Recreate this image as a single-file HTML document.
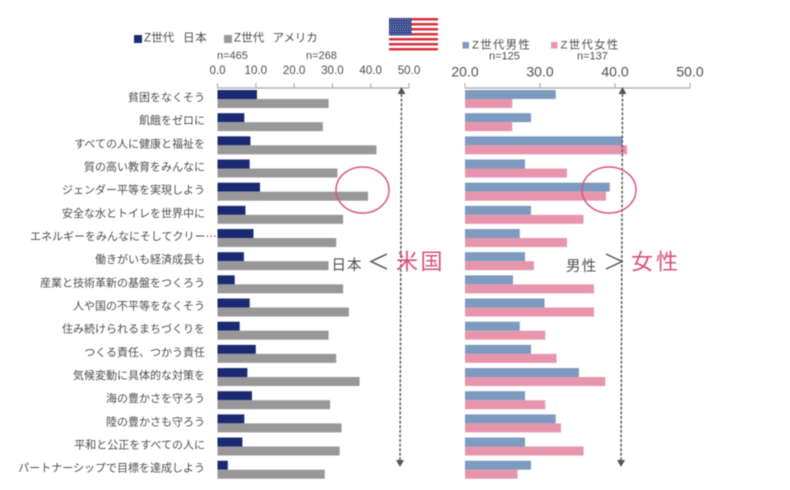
<!DOCTYPE html>
<html lang="ja">
<head>
<meta charset="utf-8">
<title>SDGs Z世代</title>
<style>
html,body{margin:0;padding:0;background:#fff;}
#chart{display:block;width:790px;height:490px;filter:blur(0.4px);}
text{font-family:"Liberation Sans","Noto Sans CJK JP",sans-serif;fill:#4d4d4d;}
</style>
</head>
<body>
<svg id="chart" xmlns="http://www.w3.org/2000/svg" width="790" height="490" viewBox="0 0 790 490">
  <g id="flag"></g>
  <g>
    <rect x="134" y="35" width="8" height="8" fill="#1a2a72"/>
    <text y="41.5" font-size="11.6"><tspan x="144">Z世代</tspan><tspan x="183" letter-spacing="0.6">日本</tspan></text>
    <rect x="224" y="35" width="8" height="8" fill="#999999"/>
    <text y="41.5" font-size="11.6"><tspan x="234">Z世代</tspan><tspan x="272.5" letter-spacing="-0.2">アメリカ</tspan></text>
    <text x="217" y="59" font-size="11">n=465</text>
    <text x="306" y="59" font-size="11">n=268</text>
  </g>
  <g>
    <rect x="462.5" y="42" width="6.5" height="6.5" fill="#7d9abf"/>
    <text x="472" y="48.5" font-size="11.4" letter-spacing="1.3">Z世代男性</text>
    <rect x="551" y="42" width="6.5" height="6.5" fill="#e895ad"/>
    <text x="560.5" y="48.5" font-size="11.4" letter-spacing="1.3">Z世代女性</text>
    <text x="489" y="59.5" font-size="11">n=125</text>
    <text x="577" y="59.5" font-size="11">n=137</text>
  </g>
  <g id="left-axis"></g>
  <g id="right-axis"></g>
  <g id="labels"></g>
  <g id="left-bars"></g>
  <g id="right-bars"></g>

  <g>
    <line x1="401.5" y1="94" x2="400" y2="460" stroke="#5a5a5a" stroke-width="1.5" stroke-dasharray="3 1.6"/>
    <polygon points="401.5,87 397.5,94 405.5,94" fill="#555"/>
    <polygon points="400,467 396,460 404,460" fill="#555"/>
  </g>
  <g>
    <line x1="622.5" y1="94" x2="621" y2="460" stroke="#5a5a5a" stroke-width="1.5" stroke-dasharray="3 1.6"/>
    <polygon points="622.5,87 618.5,94 626.5,94" fill="#555"/>
    <polygon points="621,467 617,460 625,460" fill="#555"/>
  </g>

  <ellipse cx="362.5" cy="190" rx="26.5" ry="23" fill="none" stroke="#d9557a" stroke-width="1.5"/>
  <ellipse cx="609" cy="190" rx="27" ry="23" fill="none" stroke="#d9557a" stroke-width="1.5"/>

  <g>
    <text x="331.5" y="270" font-size="14.5" letter-spacing="1">日本</text>
    <polyline points="387,254 371,261.5 387,269" fill="none" stroke="#555" stroke-width="1.5"/>
    <text x="396" y="269.5" font-size="22" letter-spacing="2.5" style="fill:#d9507a">米国</text>
  </g>
  <g>
    <text x="566" y="271" font-size="14.5" letter-spacing="1.2">男性</text>
    <polyline points="606,254 622,261.5 606,269" fill="none" stroke="#555" stroke-width="1.5"/>
    <text x="631" y="269.5" font-size="22" letter-spacing="3" style="fill:#d9507a">女性</text>
  </g>
</svg>
<script>
const categories = ["貧困をなくそう","飢餓をゼロに","すべての人に健康と福祉を","質の高い教育をみんなに","ジェンダー平等を実現しよう","安全な水とトイレを世界中に","エネルギーをみんなにそしてクリー⋯","働きがいも経済成長も","産業と技術革新の基盤をつくろう","人や国の不平等をなくそう","住み続けられるまちづくりを","つくる責任、つかう責任","気候変動に具体的な対策を","海の豊かさを守ろう","陸の豊かさも守ろう","平和と公正をすべての人に","パートナーシップで目標を達成しよう"];
const japanValues = [10.3,7.0,8.6,8.4,11.1,7.3,9.4,6.9,4.5,8.4,5.8,10.0,7.8,9.0,7.0,6.5,2.7];
const americaValues = [29.0,27.5,41.5,31.3,39.3,32.8,31.0,29.0,32.8,34.3,29.0,31.0,37.1,29.4,32.4,31.9,28.0];
const maleValues = [32.1,28.8,41.0,28.0,39.3,28.8,27.3,28.0,26.4,30.6,27.3,28.8,35.2,28.0,32.1,28.0,28.8];
const femaleValues = [26.3,26.3,41.6,33.6,38.8,35.8,33.6,29.2,37.2,37.2,30.7,32.2,38.7,30.7,32.8,35.8,27.0];
const leftTicks = [0,10,20,30,40,50];
const rightTicks = [20,30,40,50];

const NS = "http://www.w3.org/2000/svg";
const make = (tag, attrs, parent) => {
  const el = document.createElementNS(NS, tag);
  for (const k in attrs) el.setAttribute(k, attrs[k]);
  parent.appendChild(el);
  return el;
};
const xLeft = v => 217.5 + (v - 0) * (409 - 217.5) / 50;
const xRight = v => 465 + (v - 20) * (690 - 465) / 30;
const rowY = i => 90 + i * 23.17;
const barH = 9;

function drawAxis(groupId, ticks, xf, fontSize, labelY) {
  const g = document.getElementById(groupId);
  const line = make("line", {x1: xf(ticks[0]), x2: xf(ticks[ticks.length - 1]), y1: 88, y2: 88, stroke: "#a6a6a6", "stroke-width": 1.2}, g);
  
  
  ticks.forEach(t => {
    const tick = make("line", {x1: xf(t), x2: xf(t), y1: 83, y2: 88, stroke: "#a6a6a6", "stroke-width": 1}, g);
    
    
    const label = make("text", {x: xf(t), y: labelY, "font-size": fontSize, "text-anchor": "middle"}, g);
    
    
    label.textContent = t.toFixed(1);
  });
}
drawAxis("left-axis", leftTicks, xLeft, 11.6, 74);
drawAxis("right-axis", rightTicks, xRight, 14, 76.5);

const labelGroup = document.getElementById("labels");
categories.forEach((c, i) => {
  const t = make("text", {x: c.endsWith("⋯") ? 216.5 : 205, y: rowY(i) + 11, "font-size": 11, "text-anchor": "end"}, labelGroup);
  
  
  t.textContent = c;
});

function drawBars(groupId, first, second, xf, base, c1, c2) {
  const g = document.getElementById(groupId);
  categories.forEach((c, i) => {
    const a = make("rect", {x: xf(base), y: rowY(i), width: xf(first[i]) - xf(base), height: barH, fill: c1}, g);
    
    
    const b = make("rect", {x: xf(base), y: rowY(i) + barH, width: xf(second[i]) - xf(base), height: barH, fill: c2}, g);
    
    
  });
}
drawBars("left-bars", japanValues, americaValues, xLeft, 0, "#1a2a72", "#999899");
drawBars("right-bars", maleValues, femaleValues, xRight, 20, "#7d9abf", "#e795ac");

const flag = document.getElementById("flag");
const fx = 389, fy = 18, fw = 49, fh = 32.5, sh = fh / 13;
make("rect", {x: fx, y: fy, width: fw, height: fh, fill: "#fff"}, flag);
for (let s = 0; s < 13; s += 2) {
  make("rect", {x: fx, y: fy + s * sh, width: fw, height: sh, fill: "#d8323f"}, flag);
}
make("rect", {x: fx, y: fy, width: 22.5, height: sh * 7, fill: "#2b3c84"}, flag);
for (let r = 0; r < 7; r++) {
  for (let k = 0; k < 9; k++) {
    make("circle", {cx: fx + 1.5 + k * 2.4 + (r % 2) * 0.6, cy: fy + 1.5 + r * 2.4, r: 0.55, fill: "#e6e9f3"}, flag);
  }
}
</script>
</body>
</html>
